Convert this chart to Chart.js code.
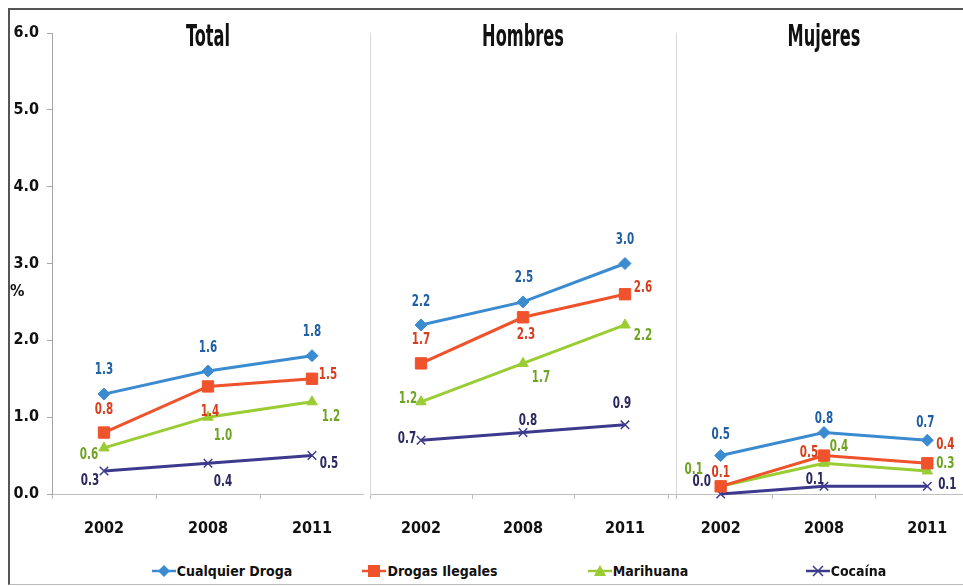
<!DOCTYPE html>
<html>
<head>
<meta charset="utf-8">
<script src="https://cdn.jsdelivr.net/npm/chart.js@4.4.1/dist/chart.umd.min.js"></script>
<style>
  body { margin:0; width:963px; height:586px; overflow:hidden; background:#fff; position:relative;
         font-family:'DejaVu Sans Condensed','Liberation Sans Narrow',sans-serif; }
  .frame { position:absolute; left:8px; top:8px; width:1000px; height:574px;
           border-top:2px solid #555; border-left:2px solid #555; border-bottom:1px solid #bbb; }
  canvas { position:absolute; top:0; }
  .title { position:absolute; top:20px; height:32px; line-height:32px; text-align:center;
           font-weight:bold; font-size:30px; color:#111; transform:scaleX(0.6); }
  .pct { position:absolute; left:10px; top:281px; font-weight:bold; font-size:16px; color:#111; }
  #legend { position:absolute; left:118px; top:563px; width:832px; display:flex; }
  #legend div { flex:1; display:flex; justify-content:center; align-items:center;
                font-weight:bold; font-size:14px; color:#111; }
  #legend canvas { position:static; margin-right:1px; }
</style>
</head>
<body>
<div class="frame"></div>
<canvas id="c1" width="364" height="545" style="left:0px"></canvas>
<canvas id="c2" width="308" height="545" style="left:369px"></canvas>
<canvas id="c3" width="311" height="545" style="left:668px"></canvas>
<div class="pct">%</div>
<div id="legend"></div>

<script>
// categories and series
const years = ['2002', '2008', '2011'];
const panels = ['Total', 'Hombres', 'Mujeres'];
const seriesNames = ['Cualquier Droga', 'Drogas Ilegales', 'Marihuana', 'Cocaína'];
const yTicks = [0, 1, 2, 3, 4, 5, 6];

// values per panel, one row per series
const totalData   = [[1.3, 1.6, 1.8], [0.8, 1.4, 1.5], [0.6, 1.0, 1.2], [0.3, 0.4, 0.5]];
const hombresData = [[2.2, 2.5, 3.0], [1.7, 2.3, 2.6], [1.2, 1.7, 2.2], [0.7, 0.8, 0.9]];
const mujeresData = [[0.5, 0.8, 0.7], [0.1, 0.5, 0.4], [0.1, 0.4, 0.3], [0.0, 0.1, 0.1]];

// style
const lineColors  = ['#3a8bd0', '#f0522c', '#9acd34', '#3d3a8e'];
const labelColors = ['#1f5fa3', '#d63f1e', '#6fa322', '#2a285e'];
const markers = ['rectRot', 'rect', 'triangle', 'crossRot'];
const markerSizes = [6, 8, 6, 6];
const FONT = "'DejaVu Sans Condensed','Liberation Sans Narrow',sans-serif";

// label offsets [dx, dy] from each point
const totalLabelPos = [
  [[0,-24],[0,-23],[0,-24]],
  [[0,-23],[2,25],[16,-4]],
  [[-15,7],[15,19],[19,15]],
  [[-14,10],[15,19],[17,8]]
];
const hombresLabelPos = [
  [[0,-23],[1,-24],[0,-24]],
  [[0,-24],[3,18],[18,-6]],
  [[-13,-3],[18,14],[18,11]],
  [[-14,-1],[5,-12],[-3,-21]]
];
const mujeresLabelPos = [
  [[0,-21],[0,-14],[-2,-17]],
  [[0,-13],[-15,-3],[18,-18]],
  [[-27,-16],[15,-16],[18,-7]],
  [[-19,-12],[-9,-6],[20,-1]]
];

// value labels, drawn a bit condensed like the original
const valueLabels = {
  id: 'valueLabels',
  afterDatasetsDraw(chart) {
    const ctx = chart.ctx;
    chart.data.datasets.forEach((ds, i) => {
      const meta = chart.getDatasetMeta(i);
      meta.data.forEach((pt, j) => {
        const off = ds.labelOffsets[j];
        ctx.save();
        ctx.translate(pt.x + off[0], pt.y + off[1]);
        ctx.scale(0.72, 1);
        ctx.font = 'bold 16px ' + FONT;
        ctx.textAlign = 'center';
        ctx.textBaseline = 'middle';
        ctx.fillStyle = labelColors[i];
        ctx.fillText(ds.data[j].toFixed(1), 0, 0);
        ctx.restore();
      });
    });
  }
};

// kind: 'first' shows the y ticks, 'middle' also draws a right-hand divider
function makePanel(canvasId, values, labelPos, kind) {
  const showY = kind === 'first';
  const datasets = values.map((row, i) => ({
    label: seriesNames[i],
    data: row,
    labelOffsets: labelPos[i],
    borderColor: lineColors[i],
    backgroundColor: lineColors[i],
    borderWidth: 3,
    pointStyle: markers[i],
    pointRadius: markerSizes[i],
    pointBorderWidth: i === 3 ? 1.5 : 1,
    clip: false,
    tension: 0
  }));
  const scales = {
    x: {
      type: 'category',
      offset: true,
      grid: { offset: true, drawOnChartArea: false, tickLength: 5, color: '#bfbfbf' },
      border: { color: '#bfbfbf' },
      ticks: { padding: 20, color: '#111', font: { family: FONT, size: 16, weight: 'bold' } },
      afterFit: s => { s.height = 51; }
    },
    y: {
      min: 0, max: 6,
      afterBuildTicks: s => { s.ticks = yTicks.map(v => ({ value: v })); },
      grid: { drawOnChartArea: false, drawTicks: showY, tickLength: 5, color: '#a6a6a6' },
      border: { display: kind !== 'last', color: showY ? '#a6a6a6' : '#d9d9d9' },
      ticks: {
        display: showY, padding: 8, color: '#111',
        font: { family: FONT, size: 16, weight: 'bold' },
        callback: v => v.toFixed(1)
      },
      afterFit: s => { s.width = showY ? 52 : 0; }
    }
  };
  if (kind === 'middle') {
    scales.yRight = {
      position: 'right', min: 0, max: 6,
      grid: { drawOnChartArea: false, drawTicks: false },
      border: { color: '#d9d9d9' },
      ticks: { display: false },
      afterFit: s => { s.width = 0; }
    };
  }
  return new Chart(document.getElementById(canvasId), {
    type: 'line',
    data: { labels: years, datasets: datasets },
    plugins: [valueLabels],
    options: {
      responsive: false,
      animation: false,
      layout: { autoPadding: false, padding: { top: 33, left: showY ? 0 : 1, right: kind === 'middle' ? 1 : 0, bottom: 0 } },
      plugins: { legend: { display: false }, tooltip: { enabled: false } },
      scales: scales
    }
  });
}

const charts = [
  makePanel('c1', totalData, totalLabelPos, 'first'),
  makePanel('c2', hombresData, hombresLabelPos, 'middle'),
  makePanel('c3', mujeresData, mujeresLabelPos, 'last')
];

// panel titles placed over each plot area
charts.forEach((ch, i) => {
  const el = document.createElement('div');
  el.className = 'title';
  el.textContent = panels[i];
  const left = parseFloat(ch.canvas.style.left);
  el.style.left = (left + ch.chartArea.left) + 'px';
  el.style.width = (ch.chartArea.right - ch.chartArea.left) + 'px';
  document.body.appendChild(el);
});

// legend
const legend = document.getElementById('legend');
seriesNames.forEach((name, i) => {
  const item = document.createElement('div');
  const cv = document.createElement('canvas');
  cv.width = 24; cv.height = 16;
  const g = cv.getContext('2d');
  g.strokeStyle = lineColors[i]; g.fillStyle = lineColors[i]; g.lineWidth = 2.5;
  g.beginPath(); g.moveTo(0, 8); g.lineTo(24, 8); g.stroke();
  g.beginPath();
  if (i === 0) { g.moveTo(12, 2); g.lineTo(18, 8); g.lineTo(12, 14); g.lineTo(6, 8); g.fill(); }
  else if (i === 1) { g.fillRect(6, 2, 12, 12); }
  else if (i === 2) { g.moveTo(12, 2); g.lineTo(18, 13); g.lineTo(6, 13); g.fill(); }
  else { g.lineWidth = 1.5; g.moveTo(7, 3); g.lineTo(17, 13); g.moveTo(17, 3); g.lineTo(7, 13); g.stroke(); }
  const sp = document.createElement('span');
  sp.textContent = name;
  item.appendChild(cv); item.appendChild(sp);
  legend.appendChild(item);
});
</script>
</body>
</html>
